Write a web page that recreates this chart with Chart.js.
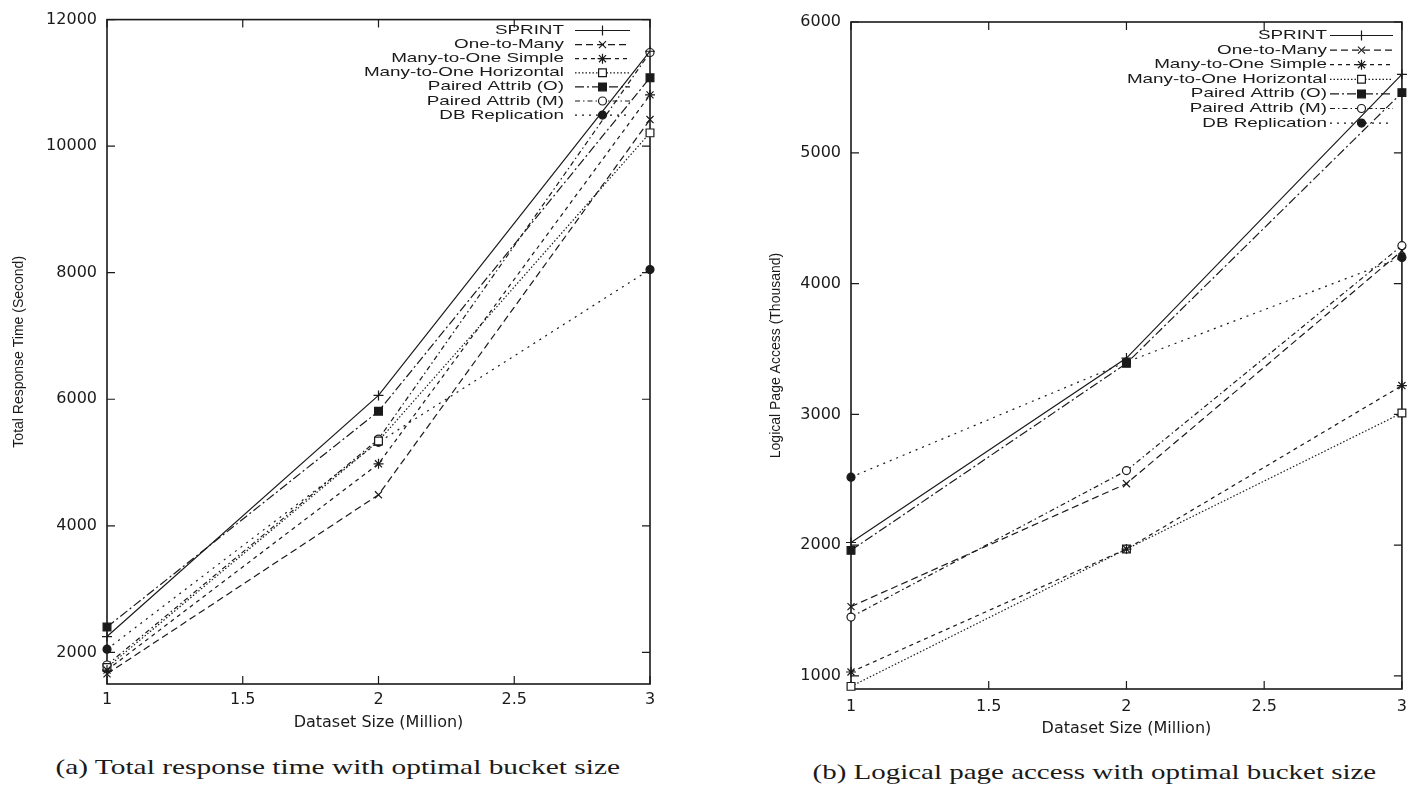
<!DOCTYPE html>
<html lang="en">
<head>
    <meta charset="UTF-8">
    <title>Optimal bucket size</title>
    <script src="https://cdn.jsdelivr.net/npm/chart.js"></script>
    <style>
        body { margin: 0; background: #fff; }
        #page { position: relative; width: 1415px; height: 787px; overflow: hidden; }
        canvas { position: absolute; top: 0; }
        #timeChart { left: 0; }
        #pageChart { left: 700px; }
        .caption { position: absolute; font-family: "Liberation Serif", serif; font-size: 21px; color: #1a1a1a; white-space: nowrap; text-align: center; }
        .caption span { display: inline-block; transform-origin: center; }
    </style>
</head>
<body>
<div id="page">
    <canvas id="timeChart" width="700" height="745"></canvas>
    <canvas id="pageChart" width="715" height="745"></canvas>
    <div class="caption" style="left: 38px; width: 600px; top: 755px;"><span>(a) Total response time with optimal bucket size</span></div>
    <div class="caption" style="left: 794px; width: 600px; top: 760px;"><span>(b) Logical page access with optimal bucket size</span></div>
</div>

<script>
    // dataset size in million rows
    const datasetSizes = [1, 2, 3];
    const xTicks = [1, 1.5, 2, 2.5, 3];

    // (a) total response time, seconds
    const sprintTime     = [2250, 6060, 11500];
    const oneToManyTime  = [1660, 4490, 10420];
    const simpleTime     = [1720, 4980, 10810];
    const horizontalTime = [1760, 5340, 10210];
    const pairedOTime    = [2400, 5810, 11080];
    const pairedMTime    = [1800, 5370, 11480];
    const dbReplTime     = [2050, 5320, 8050];
    const timeTicks = [2000, 4000, 6000, 8000, 10000, 12000];

    // (b) logical page access, thousand
    const sprintPages     = [2020, 3430, 5600];
    const oneToManyPages  = [1530, 2470, 4250];
    const simplePages     = [1030, 1970, 3220];
    const horizontalPages = [920, 1970, 3010];
    const pairedOPages    = [1960, 3390, 5460];
    const pairedMPages    = [1450, 2570, 4290];
    const dbReplPages     = [2520, 3400, 4200];
    const pageTicks = [1000, 2000, 3000, 4000, 5000, 6000];

    const ink = '#1a1a1a';
    Chart.defaults.font.family = '"DejaVu Sans", sans-serif';
    Chart.defaults.color = ink;

    function series(label, values, dash, style, fill, radius) {
        return {
            label: label,
            data: values.map((v, i) => ({ x: datasetSizes[i], y: v })),
            borderColor: ink,
            borderWidth: 1.2,
            borderDash: dash,
            pointStyle: style,
            pointRadius: radius,
            pointBackgroundColor: fill,
            pointBorderColor: ink,
            pointBorderWidth: 1.2,
            tension: 0,
            clip: false
        };
    }

    function allSeries(sprint, oneToMany, simple, horizontal, pairedO, pairedM, dbRepl) {
        return [
            series('SPRINT', sprint, [], 'cross', ink, 5),
            series('One-to-Many', oneToMany, [7, 4], 'crossRot', ink, 5),
            series('Many-to-One Simple', simple, [4, 4], 'star', ink, 5),
            series('Many-to-One Horizontal', horizontal, [1.5, 2], 'rect', '#fff', 5.5),
            series('Paired Attrib (O)', pairedO, [9, 3, 2, 3], 'rect', ink, 5.5),
            series('Paired Attrib (M)', pairedM, [5, 3, 1.5, 3], 'circle', '#fff', 4),
            series('DB Replication', dbRepl, [2, 5], 'circle', ink, 4)
        ];
    }

    // box round the plot with inward tics on all four sides
    const framePlugin = {
        id: 'frame',
        beforeDatasetsDraw(chart) {
            const { ctx, chartArea: a, scales: { x, y } } = chart;
            ctx.save();
            ctx.strokeStyle = ink;
            ctx.lineWidth = 1.6;
            ctx.strokeRect(a.left, a.top, a.right - a.left, a.bottom - a.top);
            ctx.lineWidth = 1.2;
            ctx.beginPath();
            x.ticks.forEach(t => {
                const px = x.getPixelForValue(t.value);
                ctx.moveTo(px, a.bottom); ctx.lineTo(px, a.bottom - 8);
                ctx.moveTo(px, a.top); ctx.lineTo(px, a.top + 8);
            });
            y.ticks.forEach(t => {
                const py = y.getPixelForValue(t.value);
                ctx.moveTo(a.left, py); ctx.lineTo(a.left + 8, py);
                ctx.moveTo(a.right, py); ctx.lineTo(a.right - 8, py);
            });
            ctx.stroke();
            ctx.restore();
        }
    };

    // gnuplot style key: label right aligned, then line sample with its point
    const keyPlugin = {
        id: 'key',
        afterDatasetsDraw(chart, args, opts) {
            const ctx = chart.ctx;
            chart.data.datasets.forEach((ds, i) => {
                const y = opts.top + i * opts.step;
                ctx.save();
                ctx.fillStyle = ink;
                ctx.font = '13px "Liberation Sans", Arial, sans-serif';
                ctx.textAlign = 'right';
                ctx.textBaseline = 'middle';
                ctx.translate(opts.textRight, y);
                ctx.scale(1.45, 1);
                ctx.fillText(ds.label, 0, 0);
                ctx.restore();

                ctx.save();
                ctx.strokeStyle = ink;
                ctx.lineWidth = ds.borderWidth;
                ctx.setLineDash(ds.borderDash);
                ctx.beginPath();
                ctx.moveTo(opts.lineStart, y);
                ctx.lineTo(opts.lineEnd, y);
                ctx.stroke();
                ctx.setLineDash([]);
                ctx.fillStyle = ds.pointBackgroundColor;
                ctx.lineWidth = ds.pointBorderWidth;
                Chart.helpers.drawPoint(ctx, {
                    pointStyle: ds.pointStyle,
                    radius: ds.pointRadius,
                    rotation: 0,
                    borderWidth: ds.pointBorderWidth
                }, (opts.lineStart + opts.lineEnd) / 2, y);
                ctx.restore();
            });
        }
    };

    function makeChart(id, datasets, yMin, yMax, yTickValues, yTitle, box) {
        const canvas = document.getElementById(id);
        return new Chart(canvas.getContext('2d'), {
            type: 'line',
            data: { datasets: datasets },
            plugins: [framePlugin, keyPlugin],
            options: {
                responsive: false,
                animation: false,
                layout: { padding: { left: 0, right: canvas.width - box.right, top: box.top, bottom: 0 } },
                plugins: {
                    legend: { display: false },
                    tooltip: { enabled: false },
                    key: box.key
                },
                scales: {
                    x: {
                        type: 'linear',
                        min: 1,
                        max: 3,
                        afterBuildTicks: s => { s.ticks = xTicks.map(v => ({ value: v })); },
                        afterFit: s => { s.height = canvas.height - box.bottom; },
                        grid: { display: false, drawTicks: false },
                        border: { display: false },
                        ticks: { font: { size: 16 }, padding: box.xPad, maxRotation: 0, callback: v => String(v) },
                        title: {
                            display: true,
                            text: 'Dataset Size (Million)',
                            font: { size: 16 },
                            padding: { top: 0, bottom: box.xTitlePad }
                        }
                    },
                    y: {
                        min: yMin,
                        max: yMax,
                        afterBuildTicks: s => { s.ticks = yTickValues.map(v => ({ value: v })); },
                        afterFit: s => { s.width = box.left; },
                        grid: { display: false, drawTicks: false },
                        border: { display: false },
                        ticks: { font: { size: 16 }, padding: 10, callback: v => String(v) },
                        title: {
                            display: true,
                            text: yTitle,
                            font: { family: '"Liberation Sans", Arial, sans-serif', size: 14 },
                            padding: { top: box.yTitlePad, bottom: 0 }
                        }
                    }
                }
            }
        });
    }

    makeChart('timeChart',
        allSeries(sprintTime, oneToManyTime, simpleTime, horizontalTime, pairedOTime, pairedMTime, dbReplTime),
        1500, 12000, timeTicks, 'Total Response Time (Second)',
        { left: 107, right: 650, top: 15, bottom: 684, xPad: 6, xTitlePad: 13, yTitlePad: 11,
          key: { textRight: 564, lineStart: 575, lineEnd: 630, top: 30.5, step: 14.1 } });

    makeChart('pageChart',
        allSeries(sprintPages, oneToManyPages, simplePages, horizontalPages, pairedOPages, pairedMPages, dbReplPages),
        900, 6000, pageTicks, 'Logical Page Access (Thousand)',
        { left: 151, right: 707, top: 22, bottom: 689, xPad: 8, xTitlePad: 7, yTitlePad: 68,
          key: { textRight: 627, lineStart: 630, lineEnd: 693, top: 35.5, step: 14.6 } });

    // the scanned captions are stretched sideways, fit them to their printed width
    document.querySelectorAll('.caption span').forEach(s => {
        s.style.transform = 'scaleX(' + (564 / s.offsetWidth) + ')';
    });
</script>
</body>
</html>
